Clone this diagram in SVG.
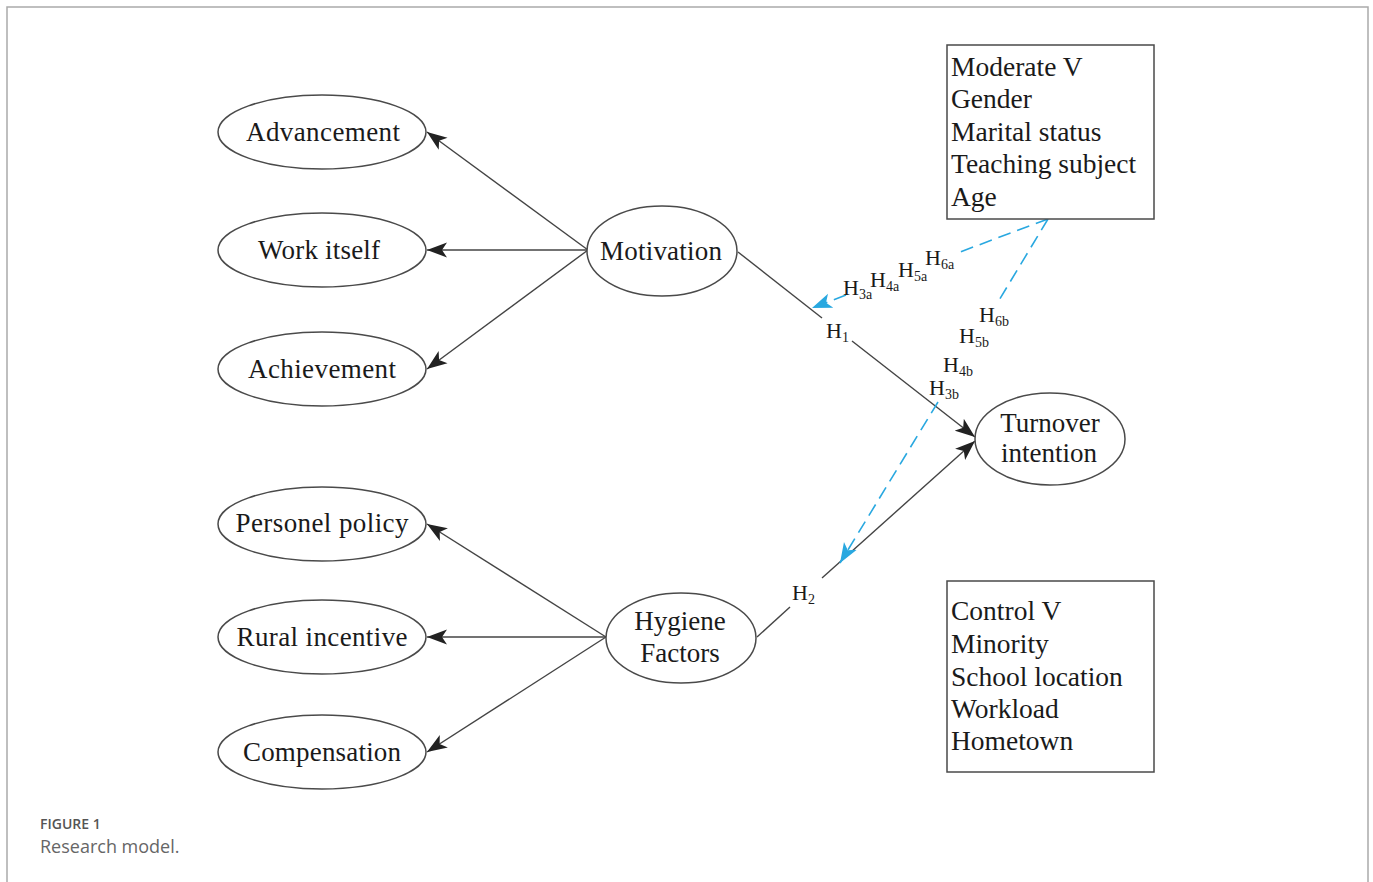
<svg xmlns="http://www.w3.org/2000/svg" width="1373" height="882" viewBox="0 0 1373 882">
<style>
.node ellipse{fill:#fff;stroke:#4a4a4a;stroke-width:1.5}
.box{fill:#fff;stroke:#4a4a4a;stroke-width:1.5}
.t{font-family:"Liberation Serif","Times New Roman",serif;font-size:27px;fill:#1a1a1a}
.bt{font-size:27.5px}
.c{text-anchor:middle}
.h{font-family:"Liberation Serif","Times New Roman",serif;font-size:22px;fill:#1a1a1a}
.sub{font-size:14px}
.ln{stroke:#444;stroke-width:1.4;fill:none}
.dl{stroke:#29a8e0;stroke-width:1.6;fill:none;stroke-dasharray:13 7}
.frame{stroke:#aaa;stroke-width:1.5;fill:none}
</style>
<defs>
<marker id="ab" markerUnits="userSpaceOnUse" markerWidth="20" markerHeight="16" refX="16" refY="6" orient="auto" viewBox="0 0 16 12">
<path d="M0,0 L16,6 L0,12 L4,6 Z" fill="#222"/>
</marker>
<marker id="ablue" markerUnits="userSpaceOnUse" markerWidth="20" markerHeight="16" refX="16" refY="6" orient="auto" viewBox="0 0 16 12">
<path d="M0,0 L16,6 L0,12 L4,6 Z" fill="#29a8e0"/>
</marker>
</defs>
<rect width="1373" height="882" fill="#fff"/>
<path class="frame" d="M7,882 V7 H1368 V882"/>

<g id="connectors">
<line class="ln" x1="588" y1="250" x2="427" y2="132" marker-end="url(#ab)"/>
<line class="ln" x1="588" y1="250" x2="427" y2="250" marker-end="url(#ab)"/>
<line class="ln" x1="588" y1="250" x2="427" y2="369" marker-end="url(#ab)"/>
<line class="ln" x1="606" y1="637" x2="427" y2="524" marker-end="url(#ab)"/>
<line class="ln" x1="606" y1="637" x2="427" y2="637" marker-end="url(#ab)"/>
<line class="ln" x1="606" y1="637" x2="427" y2="752" marker-end="url(#ab)"/>
<line class="ln" x1="738" y1="252" x2="822" y2="318"/>
<line class="ln" x1="852" y1="341" x2="975" y2="437" marker-end="url(#ab)"/>
<line class="ln" x1="757" y1="637" x2="790" y2="607"/>
<line class="ln" x1="822" y1="578" x2="975" y2="441" marker-end="url(#ab)"/>
<line class="dl" x1="1048" y1="219" x2="960" y2="252"/>
<line class="dl" x1="846" y1="295" x2="812" y2="308" marker-end="url(#ablue)"/>
<line class="dl" x1="1048" y1="219" x2="998" y2="302"/>
<line class="dl" x1="938" y1="402" x2="840" y2="563" marker-end="url(#ablue)"/>
<text class="h" x="826" y="338">H<tspan class="sub" dy="4">1</tspan></text>
<text class="h" x="792" y="600">H<tspan class="sub" dy="4">2</tspan></text>
<text class="h" x="843" y="295">H<tspan class="sub" dy="4">3a</tspan></text>
<text class="h" x="870" y="287">H<tspan class="sub" dy="4">4a</tspan></text>
<text class="h" x="898" y="277">H<tspan class="sub" dy="4">5a</tspan></text>
<text class="h" x="925" y="265">H<tspan class="sub" dy="4">6a</tspan></text>
<text class="h" x="979" y="322">H<tspan class="sub" dy="4">6b</tspan></text>
<text class="h" x="959" y="343">H<tspan class="sub" dy="4">5b</tspan></text>
<text class="h" x="943" y="372">H<tspan class="sub" dy="4">4b</tspan></text>
<text class="h" x="929" y="395">H<tspan class="sub" dy="4">3b</tspan></text>
</g>

<g id="advancement" class="node"><ellipse cx="322" cy="132" rx="104" ry="37"/><text class="t c" x="323" y="141" textLength="154">Advancement</text></g>
<g id="work-itself" class="node"><ellipse cx="322" cy="250" rx="104" ry="37"/><text class="t c" x="319" y="259" textLength="122">Work itself</text></g>
<g id="achievement" class="node"><ellipse cx="322" cy="369" rx="104" ry="37"/><text class="t c" x="322" y="378" textLength="148">Achievement</text></g>
<g id="personel-policy" class="node"><ellipse cx="322" cy="524" rx="104" ry="37"/><text class="t c" x="322" y="532" textLength="173">Personel policy</text></g>
<g id="rural-incentive" class="node"><ellipse cx="322" cy="637" rx="104" ry="37"/><text class="t c" x="322" y="646" textLength="171">Rural incentive</text></g>
<g id="compensation" class="node"><ellipse cx="322" cy="752" rx="104" ry="37"/><text class="t c" x="322" y="761" textLength="158">Compensation</text></g>
<g id="motivation" class="node"><ellipse cx="662" cy="251" rx="75" ry="45"/><text class="t c" x="661" y="260" textLength="122">Motivation</text></g>
<g id="hygiene-factors" class="node"><ellipse cx="681" cy="638" rx="75" ry="45"/><text class="t c" x="680" y="630">Hygiene</text><text class="t c" x="680" y="662">Factors</text></g>
<g id="turnover-intention" class="node"><ellipse cx="1050" cy="439" rx="75" ry="46"/><text class="t c" x="1050" y="432">Turnover</text><text class="t c" x="1049" y="462">intention</text></g>

<g id="moderate-v">
<rect class="box" x="947" y="45" width="207" height="174"/>
<text class="t bt" x="951" y="76">Moderate V</text>
<text class="t bt" x="951" y="108">Gender</text>
<text class="t bt" x="951" y="141">Marital status</text>
<text class="t bt" x="951" y="173">Teaching subject</text>
<text class="t bt" x="951" y="206">Age</text>
</g>
<g id="control-v">
<rect class="box" x="947" y="581" width="207" height="191"/>
<text class="t bt" x="951" y="620">Control V</text>
<text class="t bt" x="951" y="653">Minority</text>
<text class="t bt" x="951" y="686">School location</text>
<text class="t bt" x="951" y="718">Workload</text>
<text class="t bt" x="951" y="750">Hometown</text>
</g>

<text x="40" y="829" font-family="'Open Sans','Noto Sans',sans-serif" font-size="14" font-weight="600" fill="#555">FIGURE 1</text>
<text x="40" y="853" font-family="'Open Sans','Noto Sans',sans-serif" font-size="18" fill="#666">Research model.</text>
</svg>
